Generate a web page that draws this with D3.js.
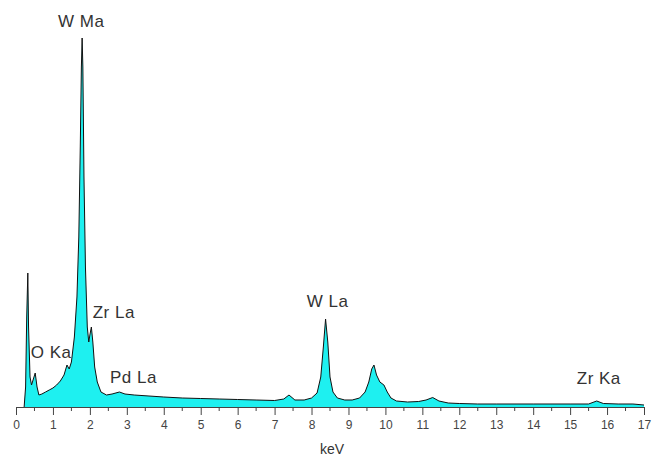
<!DOCTYPE html>
<html>
<head>
<meta charset="utf-8">
<script src="https://cdn.jsdelivr.net/npm/d3@7"></script>
<style>
  html, body { margin: 0; padding: 0; background: #fff; }
  svg { display: block; font-family: "Liberation Sans", Arial, sans-serif; }
</style>
</head>
<body>
<svg id="chart" width="652" height="456"></svg>
<script>
// Energy (keV) of each sampled point of the spectrum
const energy = [0.22,0.26,0.29,0.32,0.34,0.38,0.42,0.47,0.52,0.57,0.62,0.70,0.80,0.90,1.00,1.10,1.20,1.30,1.38,1.44,1.50,1.58,1.65,1.70,1.74,1.77,1.79,1.81,1.84,1.88,1.93,1.97,2.00,2.04,2.08,2.13,2.20,2.30,2.45,2.60,2.80,2.95,3.2,3.6,4.0,4.5,5.0,5.5,6.0,6.5,7.0,7.25,7.39,7.55,7.8,8.0,8.15,8.25,8.32,8.38,8.44,8.50,8.58,8.7,8.9,9.1,9.3,9.45,9.55,9.63,9.69,9.76,9.85,9.96,10.05,10.15,10.3,10.6,10.9,11.1,11.28,11.45,11.7,12.0,12.5,13.0,14.0,15.0,15.5,15.72,15.9,16.3,16.7,17.0];
// Counts (arbitrary units)
const counts = [0,20,90,134,80,30,22,28,34,20,12,13,15,17,19,22,26,32,42,38,45,70,110,170,260,340,369,340,230,140,80,65,72,80,65,40,25,15,12,13,15,13,12,11,10,9,8.5,8,7.5,7,6.5,8,12,7,7,9,14,30,60,88,65,30,15,9,7,7,9,15,25,38,42,32,25,22,15,9,6,5,5.5,7,9.5,6,4,3.5,3,3,3,3,3,6,3.5,3,3,2];
// Peak labels (left edge energy, baseline count)
const labelText = ["W Ma","Zr La","O Ka","Pd La","W La","Zr Ka"];
const labelE    = [1.137, 2.076, 0.398, 2.545, 7.87, 15.18];
const labelC    = [380, 89, 49, 24, 100, 23];
const xTicks = d3.range(0, 18, 1);

const svg = d3.select("#chart");
const x = d3.scaleLinear().domain([0, 17]).range([16, 644]);
const y = d3.scaleLinear().domain([0, 370]).range([407, 37]);

const data = energy.map((e, i) => ({e, c: counts[i]}));

svg.append("path")
  .datum(data)
  .attr("fill", "#1ef0f0")
  .attr("d", d3.area().x(d => x(d.e)).y0(y(0)).y1(d => y(d.c)));

svg.append("path")
  .datum(data)
  .attr("fill", "none")
  .attr("stroke", "#111")
  .attr("stroke-width", 1)
  .attr("d", d3.line().x(d => x(d.e)).y(d => y(d.c)));

// axis
const axisG = svg.append("g").attr("transform", `translate(0,${y(0)})`);
axisG.call(d3.axisBottom(x).tickValues(xTicks).tickFormat(d3.format("d")).tickSize(8).tickSizeOuter(0).tickPadding(5));
axisG.selectAll(".domain").attr("stroke", "#444");
axisG.selectAll(".tick line").attr("stroke", "#444");
axisG.selectAll(".tick text").attr("font-size", 12).attr("fill", "#444").attr("font-family", "Liberation Sans, Arial, sans-serif");
// minor ticks
axisG.selectAll(".minor").data(d3.range(0.5, 17, 1)).enter().append("line")
  .attr("x1", d => x(d)).attr("x2", d => x(d)).attr("y1", 0).attr("y2", 4).attr("stroke", "#444");

svg.append("text")
  .attr("x", 332).attr("y", 454)
  .attr("text-anchor", "middle").attr("font-size", 14).attr("fill", "#333")
  .text("keV");

svg.selectAll(".lbl").data(labelText).enter().append("text")
  .attr("class", "lbl")
  .attr("x", (d, i) => x(labelE[i]))
  .attr("y", (d, i) => y(labelC[i]))
  .attr("text-anchor", "start")
  .attr("font-size", 17)
  .attr("letter-spacing", 0.5)
  .attr("fill", "#333")
  .text(d => d);
</script>
</body>
</html>
